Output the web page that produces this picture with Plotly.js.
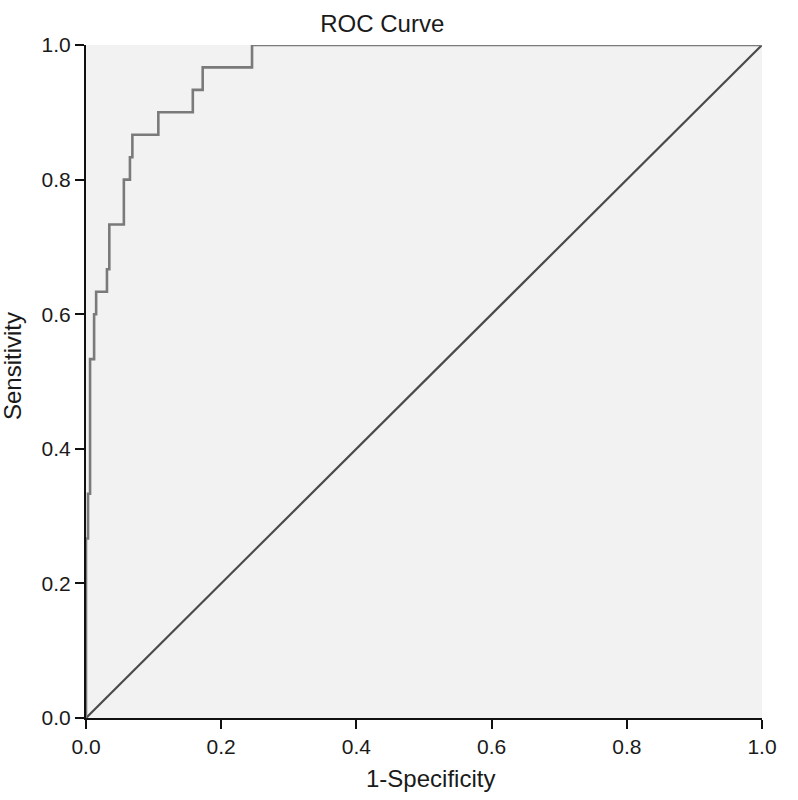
<!DOCTYPE html>
<html>
<head>
<meta charset="utf-8">
<script src="https://cdn.plot.ly/plotly-3.0.1.min.js"></script>
<style>html,body{margin:0;padding:0;background:#fff;}#chart{width:798px;height:800px;}</style>
</head>
<body>
<div id="chart"></div>
<script>
// ROC curve points (1-Specificity, Sensitivity), drawn as steps
const fpr = [0, 0, 0.003, 0.006, 0.012, 0.015, 0.031, 0.0345, 0.056, 0.065, 0.0686, 0.107, 0.158, 0.1726, 0.2456, 1];
const tpr = [0, 0.2667, 0.3333, 0.5333, 0.6, 0.6333, 0.6667, 0.7333, 0.8, 0.8333, 0.8667, 0.9, 0.9333, 0.9667, 1.0, 1.0];
// Reference line
const refX = [0, 1];
const refY = [0, 1];
const tickVals = [0, 0.2, 0.4, 0.6, 0.8, 1.0];
const tickText = ["0.0", "0.2", "0.4", "0.6", "0.8", "1.0"];
const xTitle = "1-Specificity";
const yTitle = "Sensitivity";

const font = "Liberation Sans, Arial, Helvetica, sans-serif";

const traces = [
  {x: refX, y: refY, mode: "lines", line: {color: "#4a4a4a", width: 2.2}, hoverinfo: "skip"},
  {x: fpr, y: tpr, mode: "lines", line: {color: "#7a7a7a", width: 2.6, shape: "hv"}, hoverinfo: "skip"}
];

const layout = {
  width: 798, height: 800,
  margin: {l: 86, r: 36, t: 45, b: 82},
  paper_bgcolor: "#ffffff",
  plot_bgcolor: "#f2f2f2",
  showlegend: false,
  font: {family: font, color: "#1a1a1a"},
  title: {text: "ROC Curve", font: {size: 24, family: font, color: "#1a1a1a"}, x: 0.479, xref: "container", xanchor: "center", y: 0.97, yref: "container", yanchor: "middle"},
  xaxis: {
    range: [0, 1], tickvals: tickVals, ticktext: tickText,
    showgrid: false, zeroline: false, showline: true, linecolor: "#111", linewidth: 2,
    ticks: "outside", ticklen: 9, tickwidth: 2, tickcolor: "#111",
    tickfont: {size: 21, family: font, color: "#1a1a1a"},
    fixedrange: true
  },
  yaxis: {
    range: [0, 1], tickvals: tickVals, ticktext: tickText,
    showgrid: false, zeroline: false, showline: true, linecolor: "#111", linewidth: 2,
    ticks: "outside", ticklen: 9, tickwidth: 2, tickcolor: "#111",
    tickfont: {size: 21, family: font, color: "#1a1a1a"},
    fixedrange: true
  },
  annotations: [
    {text: xTitle, xref: "paper", yref: "paper", x: 0.509, y: -0.0892, xanchor: "center", yanchor: "middle", showarrow: false, font: {size: 24, family: font, color: "#1a1a1a"}},
    {text: yTitle, xref: "paper", yref: "paper", x: -0.1095, y: 0.523, xanchor: "center", yanchor: "middle", textangle: -90, showarrow: false, font: {size: 24, family: font, color: "#1a1a1a"}}
  ]
};

Plotly.newPlot("chart", traces, layout, {displayModeBar: false, staticPlot: true});
</script>
</body>
</html>
